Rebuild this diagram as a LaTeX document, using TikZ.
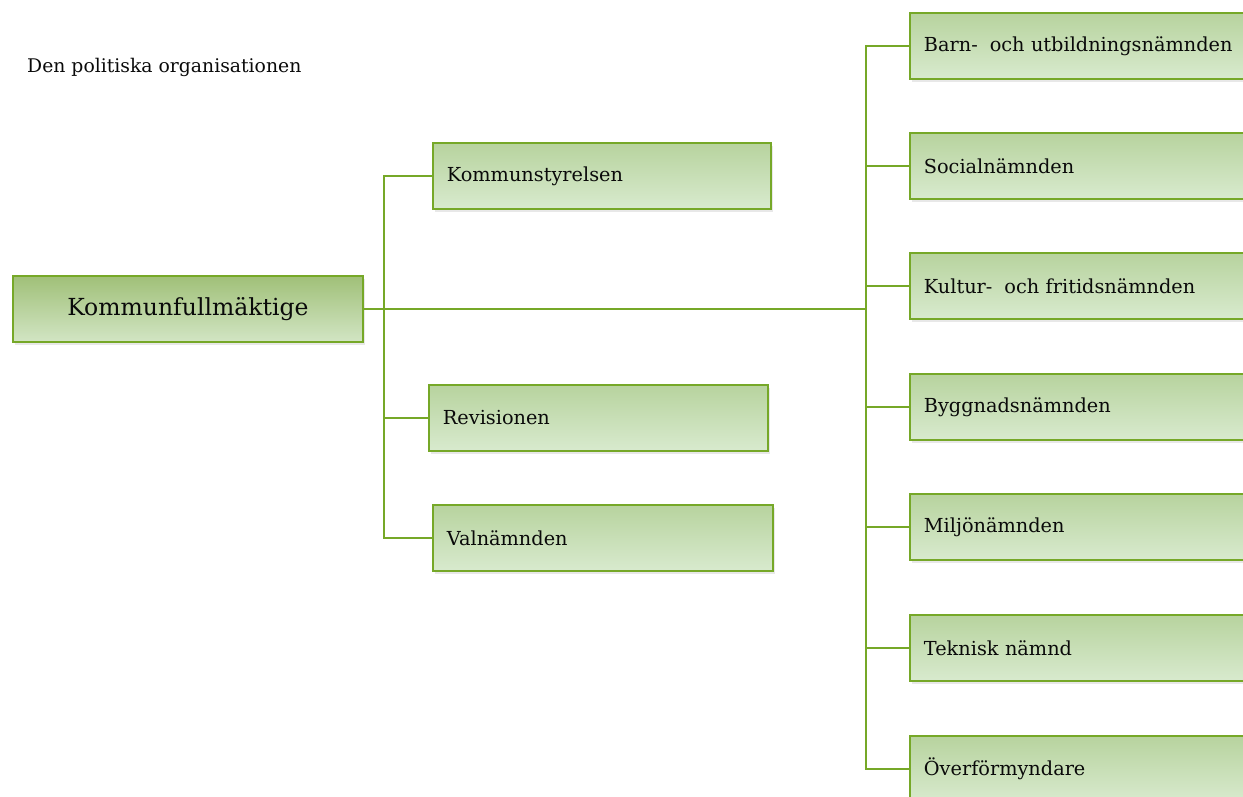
\documentclass[tikz,border=0pt]{standalone}
\usepackage{fontspec}
\setmainfont{DejaVu Serif}
\usetikzlibrary{shadows}
\definecolor{bordergreen}{RGB}{118,168,40}
\definecolor{topA}{RGB}{160,192,120}
\definecolor{botA}{RGB}{210,229,196}
\definecolor{topB}{RGB}{183,211,158}
\definecolor{botB}{RGB}{216,234,206}
\definecolor{txt}{RGB}{10,10,10}
\tikzset{
  box/.style={draw=bordergreen, line width=1.8pt, top color=topB, bottom color=botB,
    drop shadow={opacity=0.18, shadow xshift=2pt, shadow yshift=-3pt},
    minimum height=66pt, anchor=north west, inner xsep=14pt, align=left,
    font=\fontsize{19.3}{22}\selectfont, text=txt},
  mainbox/.style={box, top color=topA, bottom color=botA, align=center,
    font=\fontsize{23.5}{26}\selectfont},
  conn/.style={draw=bordergreen, line width=1.8pt},
}
\begin{document}
\begin{tikzpicture}[x=1pt,y=-1pt]
\useasboundingbox (0,0) rectangle (1243,796);
\node[anchor=west, font=\fontsize{18.8}{22}\selectfont, text=txt, inner sep=0pt] (title) at (27,67) {Den politiska organisationen};
\node[mainbox, minimum width=350pt, text width=322pt] (kf) at (12,275) {Kommunfullmäktige};
\node[box, minimum width=338pt, text width=310pt] (ks) at (432,142) {Kommunstyrelsen};
\node[box, minimum width=339pt, text width=311pt] (rev) at (428,384) {Revisionen};
\node[box, minimum width=340pt, text width=312pt] (val) at (432,504) {Valnämnden};
\node[box, minimum width=360pt, text width=332pt] (b1) at (909,12) {Barn-\hspace{12pt}och utbildningsnämnden};
\node[box, minimum width=360pt, text width=332pt] (b2) at (909,132) {Socialnämnden};
\node[box, minimum width=360pt, text width=332pt] (b3) at (909,252) {Kultur-\hspace{12pt}och fritidsnämnden};
\node[box, minimum width=360pt, text width=332pt] (b4) at (909,373) {Byggnadsnämnden};
\node[box, minimum width=360pt, text width=332pt] (b5) at (909,493) {Miljönämnden};
\node[box, minimum width=360pt, text width=332pt] (b6) at (909,614) {Teknisk nämnd};
\node[box, minimum width=360pt, text width=332pt] (b7) at (909,735) {Överförmyndare};
\coordinate (lt) at (384,307);
\coordinate (rt) at (866,307);
\draw[conn] (kf.east) -- (kf.east -| rt);
\draw[conn] (ks.west) -- (ks.west -| lt) -- (val.west -| lt) -- (val.west);
\draw[conn] (rev.west -| lt) -- (rev.west);
\draw[conn] (b1.west) -- (b1.west -| rt) -- (b7.west -| rt) -- (b7.west);
\foreach \n in {b2,b3,b4,b5,b6} { \draw[conn] (\n.west -| rt) -- (\n.west); }
\end{tikzpicture}
\end{document}
